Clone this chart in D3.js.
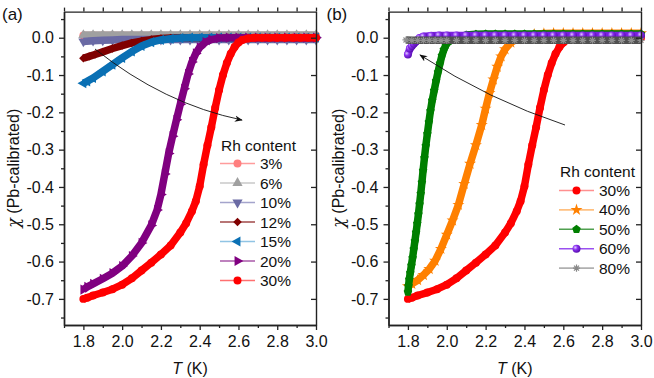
<!DOCTYPE html>
<html>
<head>
<meta charset="utf-8">
<script src="https://cdn.jsdelivr.net/npm/d3@7"></script>
<style>
  body { margin: 0; background: #fff; }
  svg { display: block; font-family: Arial, "Liberation Sans", sans-serif; }
</style>
</head>
<body>
<svg id="chart" width="654" height="378"></svg>
<script>
// 刻度
const xTicks = [1.8, 2.0, 2.2, 2.4, 2.6, 2.8, 3.0];
const xMinor = [1.7, 1.9, 2.1, 2.3, 2.5, 2.7, 2.9];
const yTicks = [0.0, -0.1, -0.2, -0.3, -0.4, -0.5, -0.6, -0.7];
const yMinor = [0.05, -0.05, -0.15, -0.25, -0.35, -0.45, -0.55, -0.65, -0.75];

// 数据 [T (K), chi]
const chi3 = [[1.80,0.006],[1.85,0.006],[1.90,0.006],[1.95,0.006],[2.00,0.006],[2.05,0.006],[2.10,0.006],[2.15,0.006],[2.20,0.006],[2.25,0.006],[2.30,0.006],[2.35,0.006],[2.40,0.006],[2.45,0.006],[2.50,0.006],[2.55,0.006],[2.60,0.006],[2.65,0.006],[2.70,0.006],[2.75,0.006],[2.80,0.006],[2.85,0.006],[2.90,0.006],[2.95,0.006],[3.00,0.006]];
const chi6 = [[1.80,0.007],[1.85,0.007],[1.90,0.007],[1.95,0.007],[2.00,0.007],[2.05,0.007],[2.10,0.007],[2.15,0.007],[2.20,0.007],[2.25,0.007],[2.30,0.007],[2.35,0.007],[2.40,0.007],[2.45,0.007],[2.50,0.007],[2.55,0.007],[2.60,0.007],[2.65,0.007],[2.70,0.007],[2.75,0.007],[2.80,0.007],[2.85,0.007],[2.90,0.007],[2.95,0.007],[3.00,0.007]];
const chi10 = [[1.80,-0.010],[1.85,-0.008],[1.90,-0.007],[1.95,-0.006],[2.00,-0.005],[2.05,-0.005],[2.10,-0.005],[2.15,-0.005],[2.20,-0.005],[2.25,-0.005],[2.30,-0.005],[2.35,-0.005],[2.40,-0.005],[2.45,-0.005],[2.50,-0.005],[2.55,-0.005],[2.60,-0.005],[2.65,-0.005],[2.70,-0.005],[2.75,-0.005],[2.80,-0.005],[2.85,-0.005],[2.90,-0.005],[2.95,-0.005],[3.00,-0.005]];
const chi12 = [[1.80,-0.055],[1.83,-0.050],[1.86,-0.045],[1.90,-0.038],[1.95,-0.029],[2.00,-0.021],[2.05,-0.014],[2.10,-0.009],[2.15,-0.005],[2.20,-0.002],[2.25,-0.001],[2.30,0.000],[2.35,0.000],[2.40,0.000],[2.45,0.000],[2.50,0.000],[2.55,0.000],[2.60,0.000],[2.65,0.000],[2.70,0.000],[2.75,0.000],[2.80,0.000],[2.85,0.000],[2.90,0.000],[2.95,0.000],[3.00,0.000]];
const chi15 = [[1.80,-0.122],[1.82,-0.117],[1.85,-0.108],[1.90,-0.090],[1.95,-0.072],[2.00,-0.054],[2.05,-0.037],[2.10,-0.022],[2.15,-0.012],[2.20,-0.006],[2.25,-0.003],[2.30,-0.001],[2.35,0.000],[2.40,0.000],[2.45,0.000],[2.50,0.000],[2.55,0.000],[2.60,0.000],[2.65,0.000],[2.70,0.000],[2.75,0.000],[2.80,0.000],[2.85,0.000],[2.90,0.000],[2.95,0.000],[3.00,0.000]];
const chi20 = [[1.80,-0.675],[1.82,-0.668],[1.85,-0.660],[1.90,-0.646],[1.95,-0.631],[2.00,-0.612],[2.05,-0.585],[2.10,-0.550],[2.15,-0.503],[2.18,-0.462],[2.20,-0.420],[2.22,-0.365],[2.24,-0.310],[2.26,-0.264],[2.28,-0.220],[2.30,-0.178],[2.32,-0.137],[2.34,-0.097],[2.36,-0.065],[2.38,-0.042],[2.40,-0.026],[2.43,-0.012],[2.46,-0.005],[2.50,-0.001],[2.55,0.000],[2.60,0.000],[2.65,0.000],[2.70,0.000],[2.75,0.000],[2.80,0.000],[2.85,0.000],[2.90,0.000],[2.95,0.000],[3.00,0.000]];
const chi30 = [[1.80,-0.700],[1.82,-0.697],[1.85,-0.691],[1.90,-0.683],[1.95,-0.674],[2.00,-0.662],[2.05,-0.645],[2.10,-0.624],[2.15,-0.603],[2.20,-0.581],[2.25,-0.557],[2.30,-0.522],[2.33,-0.497],[2.36,-0.465],[2.38,-0.438],[2.40,-0.398],[2.42,-0.340],[2.44,-0.288],[2.46,-0.240],[2.48,-0.188],[2.50,-0.140],[2.52,-0.100],[2.54,-0.068],[2.56,-0.043],[2.58,-0.025],[2.60,-0.013],[2.62,-0.006],[2.65,-0.002],[2.68,0.000],[2.72,0.000],[2.76,0.000],[2.80,0.000],[2.84,0.000],[2.88,0.000],[2.92,0.000],[2.96,0.000],[3.00,0.000]];
const chi40 = [[1.80,-0.666],[1.82,-0.660],[1.85,-0.650],[1.88,-0.636],[1.91,-0.620],[1.94,-0.598],[1.97,-0.566],[2.00,-0.528],[2.03,-0.490],[2.06,-0.448],[2.09,-0.392],[2.12,-0.338],[2.15,-0.288],[2.18,-0.234],[2.20,-0.190],[2.22,-0.148],[2.24,-0.112],[2.26,-0.078],[2.28,-0.050],[2.30,-0.031],[2.33,-0.013],[2.36,-0.004],[2.40,0.004],[2.45,0.009],[2.50,0.011],[2.55,0.012],[2.60,0.012],[2.65,0.012],[2.70,0.012],[2.75,0.012],[2.80,0.012],[2.85,0.012],[2.90,0.012],[2.95,0.012],[3.00,0.012]];
const chi50 = [[1.800,-0.682],[1.803,-0.665],[1.807,-0.648],[1.812,-0.630],[1.818,-0.610],[1.824,-0.590],[1.830,-0.567],[1.836,-0.545],[1.842,-0.522],[1.848,-0.498],[1.854,-0.473],[1.860,-0.446],[1.866,-0.418],[1.872,-0.388],[1.878,-0.356],[1.885,-0.322],[1.892,-0.290],[1.900,-0.258],[1.908,-0.226],[1.916,-0.196],[1.925,-0.168],[1.935,-0.142],[1.945,-0.116],[1.955,-0.092],[1.965,-0.069],[1.975,-0.048],[1.985,-0.032],[1.995,-0.020],[2.010,-0.010],[2.030,-0.003],[2.060,0.003],[2.100,0.007],[2.150,0.009],[2.200,0.010],[2.250,0.010],[2.300,0.010],[2.350,0.010],[2.400,0.010],[2.450,0.010],[2.500,0.010],[2.550,0.010],[2.600,0.010],[2.650,0.010],[2.700,0.010],[2.750,0.010],[2.800,0.010],[2.850,0.010],[2.900,0.010],[2.950,0.010],[3.000,0.010]];
const chi60 = [[1.80,-0.045],[1.81,-0.029],[1.82,-0.022],[1.83,-0.016],[1.84,-0.011],[1.85,-0.006],[1.86,-0.001],[1.88,0.003],[1.92,0.005],[1.96,0.006],[2.00,0.006],[2.05,0.006],[2.10,0.006],[2.15,0.006],[2.20,0.006],[2.25,0.006],[2.30,0.006],[2.35,0.006],[2.40,0.006],[2.45,0.006],[2.50,0.006],[2.55,0.006],[2.60,0.006],[2.65,0.006],[2.70,0.006],[2.75,0.006],[2.80,0.006],[2.85,0.006],[2.90,0.006],[2.95,0.006],[3.00,0.006]];
const chi80 = [[1.79,-0.006],[1.82,-0.007],[1.85,-0.007],[1.88,-0.007],[1.91,-0.007],[1.94,-0.007],[1.97,-0.007],[2.00,-0.007],[2.05,-0.007],[2.10,-0.007],[2.15,-0.007],[2.20,-0.007],[2.25,-0.007],[2.30,-0.007],[2.35,-0.007],[2.40,-0.007],[2.45,-0.007],[2.50,-0.007],[2.55,-0.007],[2.60,-0.007],[2.65,-0.007],[2.70,-0.007],[2.75,-0.007],[2.80,-0.007],[2.85,-0.007],[2.90,-0.007],[2.95,-0.007],[3.00,-0.007]];

const labelsA = ['3%', '6%', '10%', '12%', '15%', '20%', '30%'];
const labelsB = ['30%', '40%', '50%', '60%', '80%'];

// 自定义符号
const symbolPentagon = {
  draw(ctx, size) {
    const r = Math.sqrt(size / 2.378);
    for (let i = 0; i < 5; i++) {
      const a = -Math.PI / 2 + i * 2 * Math.PI / 5;
      i ? ctx.lineTo(r * Math.cos(a), r * Math.sin(a)) : ctx.moveTo(r * Math.cos(a), r * Math.sin(a));
    }
    ctx.closePath();
  }
};
const symbolAsterisk = {
  draw(ctx, size) {
    const r = Math.sqrt(size) / 2;
    for (let i = 0; i < 4; i++) {
      const a = i * Math.PI / 4;
      ctx.moveTo(r * Math.cos(a), r * Math.sin(a));
      ctx.lineTo(-r * Math.cos(a), -r * Math.sin(a));
    }
  }
};

const seriesA = [
  { data: chi3,  color: '#ff7f7f', legendLine: '#ff9c9c', sym: d3.symbolCircle,   rot: 0,   size: 50 },
  { data: chi6,  color: '#a0a0a0', legendLine: '#c8c8c8', sym: d3.symbolTriangle, rot: 0,   size: 45 },
  { data: chi10, color: '#6a6aa4', legendLine: '#a4a4cc', sym: d3.symbolTriangle, rot: 180, size: 45 },
  { data: chi12, color: '#800000', legendLine: '#a04848', sym: d3.symbolSquare,   rot: 45,  size: 36 },
  { data: chi15, color: '#0a70b4', legendLine: '#90c4e4', sym: d3.symbolTriangle, rot: -90, size: 45 },
  { data: chi20, color: '#800080', legendLine: '#a858a8', sym: d3.symbolTriangle, rot: 90,  size: 45 },
  { data: chi30, color: '#ff0000', legendLine: '#ff7070', sym: d3.symbolCircle,   rot: 0,   size: 50 }
];
const seriesB = [
  { data: chi30, color: '#ff0000', legendLine: '#ff9090', sym: d3.symbolCircle, rot: 0, size: 50 },
  { data: chi40, color: '#ff8000', legendLine: '#ffc080', sym: d3.symbolStar,   rot: 0, size: 45 },
  { data: chi50, color: '#007f00', legendLine: '#50a050', sym: symbolPentagon,  rot: 0, size: 48 },
  { data: chi60, color: '#7a20e0', legendLine: '#9a50f0', sym: d3.symbolCircle, rot: 0, size: 50, sphere: true },
  { data: chi80, color: '#505050', legendLine: '#b0b0b0', sym: symbolAsterisk,  rot: 0, size: 50, stroke: true }
];

const svg = d3.select('#chart');
const defs = svg.append('defs');

const grad = defs.append('radialGradient').attr('id', 'sphere').attr('cx', '35%').attr('cy', '35%').attr('r', '65%');
grad.append('stop').attr('offset', '0%').attr('stop-color', '#e0c8ff');
grad.append('stop').attr('offset', '45%').attr('stop-color', '#8a30f0');
grad.append('stop').attr('offset', '100%').attr('stop-color', '#5a10b0');

defs.append('marker')
  .attr('id', 'arrow').attr('viewBox', '0 0 10 10')
  .attr('refX', 9).attr('refY', 5)
  .attr('markerWidth', 8).attr('markerHeight', 8)
  .attr('markerUnits', 'userSpaceOnUse')
  .attr('orient', 'auto')
  .append('path').attr('d', 'M0,1 L10,5 L0,9 L3,5 Z').attr('fill', '#111');

const PLOT_TOP = 11.6, PLOT_BOTTOM = 325;

function fillOf(s) {
  if (s.stroke) return 'none';
  return s.sphere ? 'url(#sphere)' : s.color;
}

function drawPanel(opts) {
  const { left, right, series, labels, tag, legend, arrow } = opts;
  const x = d3.scaleLinear().domain([1.7, 3.0]).range([left, right]);
  const y = d3.scaleLinear().domain([-0.77, 0.07]).range([PLOT_BOTTOM, PLOT_TOP]);
  const g = svg.append('g');
  const fmt = d => d.toFixed(1);

  // 数据
  const line = d3.line().x(d => x(d[0])).y(d => y(d[1]));
  series.forEach(s => {
    const sg = g.append('g');
    sg.append('path').datum(s.data)
      .attr('d', line).attr('fill', 'none')
      .attr('stroke', s.color).attr('stroke-width', 7.5)
      .attr('stroke-linejoin', 'round');
    sg.selectAll('path.pt').data(s.data).join('path')
      .attr('class', 'pt')
      .attr('d', d3.symbol(s.sym, s.size))
      .attr('transform', d => `translate(${x(d[0])},${y(d[1])}) rotate(${s.rot})`)
      .attr('fill', fillOf(s))
      .attr('stroke', s.stroke ? '#909090' : 'none')
      .attr('stroke-width', 1.2);
  });

  // 坐标轴
  const axisStyle = sel => {
    sel.selectAll('path.domain').attr('stroke', '#222').attr('stroke-width', 1.4);
    sel.selectAll('line').attr('stroke', '#222').attr('stroke-width', 1.3);
    sel.selectAll('text').attr('font-size', 16).attr('fill', '#111')
      .attr('font-family', 'Arial, "Liberation Sans", sans-serif');
  };
  g.append('g').attr('transform', `translate(0,${PLOT_BOTTOM})`)
    .call(d3.axisBottom(x).tickValues(xTicks).tickFormat(fmt).tickSize(5).tickSizeOuter(0).tickPadding(6))
    .call(axisStyle);
  g.append('g').attr('transform', `translate(0,${PLOT_BOTTOM})`)
    .call(d3.axisBottom(x).tickValues(xMinor).tickFormat('').tickSize(3).tickSizeOuter(0))
    .call(axisStyle);
  g.append('g').attr('transform', `translate(0,${PLOT_TOP})`)
    .call(d3.axisTop(x).tickValues(xTicks.concat(xMinor)).tickFormat('').tickSize(4).tickSizeOuter(0))
    .call(axisStyle);
  g.append('g').attr('transform', `translate(${left},0)`)
    .call(d3.axisLeft(y).tickValues(yTicks).tickFormat(fmt).tickSize(5).tickSizeOuter(0).tickPadding(5))
    .call(axisStyle);
  g.append('g').attr('transform', `translate(${left},0)`)
    .call(d3.axisLeft(y).tickValues(yMinor).tickFormat('').tickSize(3).tickSizeOuter(0))
    .call(axisStyle);
  g.append('g').attr('transform', `translate(${right},0)`)
    .call(d3.axisRight(y).tickValues(yTicks).tickFormat('').tickSize(-5).tickSizeOuter(0))
    .call(axisStyle);

  // 标题
  const cx = (left + right) / 2, cy = (PLOT_TOP + PLOT_BOTTOM) / 2;
  const xt = g.append('text').attr('x', cx).attr('y', 374)
    .attr('text-anchor', 'middle').attr('font-size', 16).attr('fill', '#111');
  xt.append('tspan').attr('font-style', 'italic').text('T');
  xt.append('tspan').text(' (K)');
  const yt = g.append('text')
    .attr('transform', `translate(${left - 45},${cy}) rotate(-90)`)
    .attr('text-anchor', 'middle').attr('font-size', 16).attr('fill', '#111');
  yt.append('tspan').attr('font-style', 'italic').attr('font-family', '"DejaVu Serif", serif').text('χ');
  yt.append('tspan').text(' (Pb-calibrated)');
  g.append('text').attr('x', left - 62).attr('y', 20).attr('font-size', 17).attr('fill', '#111').text(tag);

  // 图例
  const lg = g.append('g');
  lg.append('text').attr('x', legend.titleX).attr('y', legend.titleY)
    .attr('font-size', 15.5).attr('fill', '#111').text('Rh content');
  series.forEach((s, i) => {
    const yy = legend.y0 + i * legend.dy;
    lg.append('line').attr('x1', legend.x0).attr('x2', legend.x0 + 35)
      .attr('y1', yy).attr('y2', yy)
      .attr('stroke', s.legendLine).attr('stroke-width', 1.6);
    lg.append('path').attr('d', d3.symbol(s.sym, s.size))
      .attr('transform', `translate(${legend.x0 + 17.5},${yy}) rotate(${s.rot})`)
      .attr('fill', fillOf(s)).attr('stroke', s.stroke ? '#888' : 'none').attr('stroke-width', 1.2);
    lg.append('text').attr('x', legend.x0 + 40).attr('y', yy + 5.5)
      .attr('font-size', 15.5).attr('fill', '#111').text(labels[i]);
  });

  // 箭头
  g.append('path')
    .attr('d', `M${arrow[0]},${arrow[1]} Q${arrow[2]},${arrow[3]} ${arrow[4]},${arrow[5]}`)
    .attr('fill', 'none').attr('stroke', '#111').attr('stroke-width', 0.9)
    .attr('marker-end', 'url(#arrow)');
}

drawPanel({
  left: 64, right: 316, series: seriesA, labels: labelsA, tag: '(a)',
  legend: { titleX: 221, titleY: 150.5, x0: 220, y0: 163.5, dy: 19.5 },
  arrow: [95, 49, 164, 104, 242, 120]
});
drawPanel({
  left: 388.5, right: 641, series: seriesB, labels: labelsB, tag: '(b)',
  legend: { titleX: 560, titleY: 177, x0: 559, y0: 190.5, dy: 19.4 },
  arrow: [565, 125, 489, 100, 420, 55]
});
</script>
</body>
</html>
